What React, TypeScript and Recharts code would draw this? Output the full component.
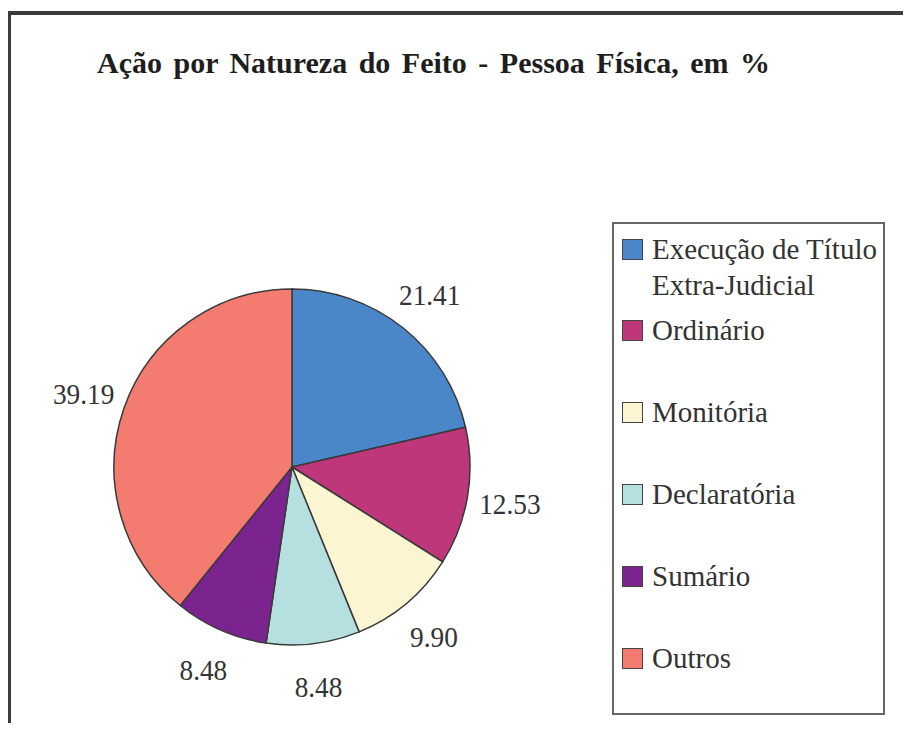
import { PieChart, Pie, Cell, Legend } from 'recharts'

const categories = [
  'Execução de Título Extra-Judicial',
  'Ordinário',
  'Monitória',
  'Declaratória',
  'Sumário',
  'Outros',
]
const shares = [21.41, 12.53, 9.9, 8.48, 8.48, 39.19]
const colors = ['#4a87c9', '#bd377a', '#fbf5d2', '#b6e0df', '#7b2490', '#f47b6f']

const data = categories.map((name, i) => ({ name, value: shares[i] }))

const RADIAN = Math.PI / 180
const serif = '"Times New Roman", "Liberation Serif", Tinos, Times, serif'

// value labels sit on a ring outside the pie, slightly condensed like the original
const renderLabel = (props: any) => {
  const { cx, cy, midAngle, value } = props
  const r = 221
  const x = cx + r * Math.cos(-midAngle * RADIAN)
  const y = cy + r * Math.sin(-midAngle * RADIAN)
  return (
    <text
      x={0}
      y={0}
      transform={`translate(${x},${y}) scale(0.91,1)`}
      fill="#333"
      fontSize={30}
      fontFamily={serif}
      textAnchor="middle"
      dominantBaseline="central"
    >
      {Number(value).toFixed(2)}
    </text>
  )
}

const renderLegend = () => (
  <div
    style={{
      position: 'relative',
      width: 273,
      height: 493,
      boxSizing: 'border-box',
      border: '2px solid #666',
      background: '#fff',
      fontFamily: serif,
      fontSize: 29,
      lineHeight: '36px',
      color: '#333',
    }}
  >
    {data.map((d, i) => (
      <div
        key={d.name}
        style={{
          position: 'absolute',
          left: 8,
          top: i === 0 ? 7 : 88 + (i - 1) * 82,
          width: 266,
          display: 'flex',
          alignItems: 'flex-start',
        }}
      >
        <span
          style={{
            display: 'inline-block',
            width: 19,
            height: 19,
            marginTop: 8,
            marginRight: 9,
            flex: 'none',
            background: colors[i],
            border: '1px solid #444',
          }}
        />
        <span style={{ width: 236 }}>{d.name}</span>
      </div>
    ))}
  </div>
)

export default function App() {
  return (
    <div
      style={{
        position: 'relative',
        width: 911,
        height: 731,
        margin: -8,
        background: '#fff',
        overflow: 'hidden',
        fontFamily: serif,
      }}
    >
      {/* frame */}
      <div style={{ position: 'absolute', left: 8, top: 11, right: 0, height: 4, background: '#3c3c3c' }} />
      <div style={{ position: 'absolute', left: 8, top: 11, bottom: 0, width: 3, background: '#3c3c3c' }} />
      <div
        style={{
          position: 'absolute',
          left: 97,
          top: 46,
          fontWeight: 'bold',
          fontSize: 30,
          wordSpacing: 4,
          color: '#1e1e1e',
          whiteSpace: 'nowrap',
        }}
      >
        Ação por Natureza do Feito - Pessoa Física, em %
      </div>
      <PieChart width={911} height={731} style={{ position: 'absolute', left: 0, top: 0 }}>
        <Pie
          data={data}
          dataKey="value"
          nameKey="name"
          cx={287}
          cy={462}
          outerRadius={178}
          startAngle={90}
          endAngle={-270}
          stroke="#3a3a3a"
          strokeWidth={1.5}
          label={renderLabel}
          labelLine={false}
          isAnimationActive={false}
        >
          {data.map((d, i) => (
            <Cell key={d.name} fill={colors[i]} />
          ))}
        </Pie>
        <Legend
          content={renderLegend}
          wrapperStyle={{ position: 'absolute', left: 612, top: 222, width: 273, height: 493 }}
        />
      </PieChart>
    </div>
  )
}
